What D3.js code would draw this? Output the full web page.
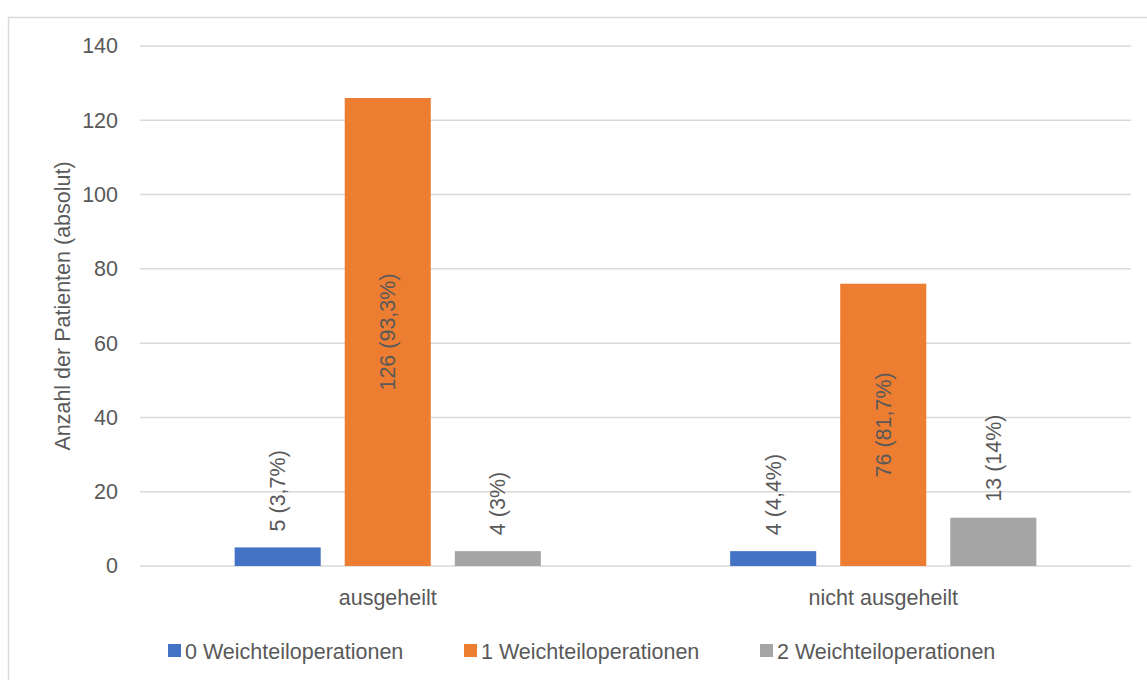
<!DOCTYPE html>
<html>
<head>
<meta charset="utf-8">
<script src="https://cdn.jsdelivr.net/npm/d3@7/dist/d3.min.js"></script>
<style>
  body { margin: 0; background: #fff; }
  text { font-family: "Liberation Sans", Arial, sans-serif; fill: #595959; }
</style>
</head>
<body>
<svg id="chart" width="1147" height="680"></svg>
<script>
// data
const categories = ["ausgeheilt", "nicht ausgeheilt"];
const seriesNames = ["0 Weichteiloperationen", "1 Weichteiloperationen", "2 Weichteiloperationen"];
const seriesValues = [
    [5, 4],      // 0 Weichteiloperationen
    [126, 76],   // 1 Weichteiloperationen
    [4, 13]      // 2 Weichteiloperationen
];
const seriesLabels = [
    ["5 (3,7%)", "4 (4,4%)"],
    ["126 (93,3%)", "76 (81,7%)"],
    ["4 (3%)", "13 (14%)"]
];
const yTicks = [0, 20, 40, 60, 80, 100, 120, 140];
const colors = ["#4472c4", "#ed7d31", "#a5a5a5"];

const svg = d3.select("#chart");
const margin = { left: 140, right: 16, top: 46, bottom: 114 };
const W = 1147, H = 680;
const FS = 21.5;

// outer chart border (Excel-like frame)
svg.append("rect")
    .attr("x", 8.5).attr("y", 17.5)
    .attr("width", W + 20).attr("height", H + 20)
    .attr("fill", "none").attr("stroke", "#d9d9d9").attr("stroke-width", 1.5);

const x0 = d3.scaleBand()
    .domain(categories)
    .range([margin.left, W - margin.right]);

// bars 86px wide with 24px gaps inside each category band
const x1 = d3.scaleBand()
    .domain(d3.range(seriesNames.length))
    .range([0, x0.bandwidth()])
    .paddingInner(24 / 110)
    .paddingOuter(0.86);

const y = d3.scaleLinear()
    .domain([0, 140])
    .range([H - margin.bottom, margin.top]);

// gridlines
svg.append("g")
    .selectAll("line")
    .data(yTicks)
    .join("line")
    .attr("x1", margin.left).attr("x2", W - margin.right)
    .attr("y1", d => y(d)).attr("y2", d => y(d))
    .attr("stroke", "#d9d9d9").attr("stroke-width", 1.5);

// y axis labels
const yAxis = d3.axisLeft(y).tickValues(yTicks).tickSize(0).tickPadding(0);
const gy = svg.append("g")
    .attr("transform", `translate(${margin.left - 22},0)`)
    .call(yAxis);
gy.select(".domain").remove();
gy.attr("font-size", null).attr("font-family", null);
gy.selectAll("text")
    .style("font-size", FS + "px")
    .attr("fill", "#595959");

// y axis title
svg.append("text")
    .attr("transform", `translate(70,${(y(0) + y(140)) / 2}) rotate(-90)`)
    .attr("text-anchor", "middle")
    .style("font-size", FS + "px")
    .text("Anzahl der Patienten (absolut)");

// bars
const groups = svg.append("g")
    .selectAll("g")
    .data(categories)
    .join("g")
    .attr("transform", d => `translate(${x0(d)},0)`);

const flat = (c, ci) => seriesNames.map((s, si) => ({
    si, value: seriesValues[si][ci], label: seriesLabels[si][ci]
}));

groups.selectAll("rect")
    .data((c, ci) => flat(c, ci))
    .join("rect")
    .attr("x", d => x1(d.si))
    .attr("width", x1.bandwidth())
    .attr("y", d => y(d.value))
    .attr("height", d => y(0) - y(d.value))
    .attr("fill", d => colors[d.si]);

// rotated data labels: centred on tall bars, outside end on short ones
groups.selectAll("text.lbl")
    .data((c, ci) => flat(c, ci))
    .join("text")
    .attr("class", "lbl")
    .style("font-size", FS + "px")
    .attr("dy", "0.35em")
    .attr("text-anchor", d => d.si === 1 ? "middle" : "start")
    .attr("transform", d => {
        let cx = x1(d.si) + x1.bandwidth() / 2;
        let cy = d.si === 1 ? (y(d.value) + y(0)) / 2 : y(d.value) - 16;
        return `translate(${cx},${cy}) rotate(-90)`;
    })
    .text(d => d.label);

// category labels
svg.append("g")
    .selectAll("text")
    .data(categories)
    .join("text")
    .attr("x", d => x0(d) + x0.bandwidth() / 2)
    .attr("y", y(0) + 39)
    .attr("text-anchor", "middle")
    .style("font-size", FS + "px")
    .text(d => d);

// legend
const legend = svg.append("g")
    .selectAll("g")
    .data(seriesNames)
    .join("g")
    .attr("transform", (d, i) => `translate(${168 + i * 296},644)`);

legend.append("rect")
    .attr("width", 13).attr("height", 13)
    .attr("fill", (d, i) => colors[i]);

legend.append("text")
    .attr("x", 17).attr("y", 7)
    .attr("dy", "0.35em")
    .style("font-size", FS + "px")
    .text(d => d);
</script>
</body>
</html>
